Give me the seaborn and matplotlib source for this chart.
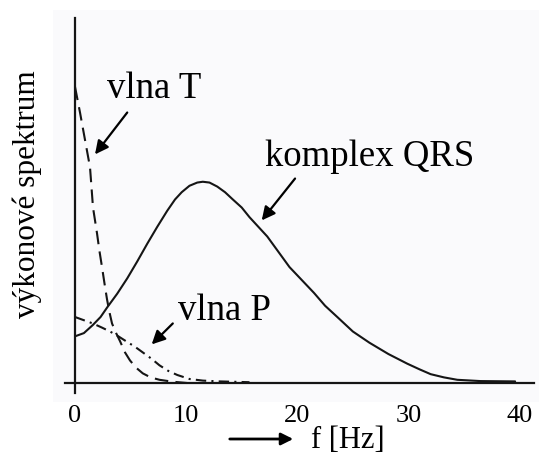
import matplotlib
matplotlib.use('Agg')
import matplotlib.pyplot as plt
import seaborn as sns
from matplotlib.patches import Rectangle, FancyArrowPatch

# values (f in Hz, power in tick units)
f_qrs = [0, 0.8, 1.6, 2.3, 2.9, 3.8, 4.7, 5.6, 6.5, 7.4, 8.3, 9.0, 9.6, 10.3, 11.0, 11.5,
         12.1, 12.8, 13.5, 14.2, 15.0, 15.7, 16.5, 17.3, 18.3, 19.3, 20.4, 21.5, 22.5,
         23.6, 25.0, 26.5, 28.2, 29.9, 31.0, 32.0, 33.2, 34.4, 36.5, 39.6]
p_qrs = [0.29, 0.31, 0.36, 0.41, 0.47, 0.555, 0.65, 0.755, 0.865, 0.97, 1.07, 1.14, 1.185,
         1.225, 1.245, 1.25, 1.245, 1.22, 1.185, 1.14, 1.09, 1.03, 0.97, 0.91, 0.815, 0.72,
         0.64, 0.56, 0.48, 0.41, 0.32, 0.25, 0.18, 0.12, 0.085, 0.055, 0.035, 0.02, 0.012,
         0.01]

f_t = [0, 0.45, 0.9, 1.35, 1.62, 1.98, 2.2, 2.43, 2.65, 2.88, 3.1, 3.33, 3.7, 4.05, 4.5,
       4.95, 5.5, 6.1, 6.8, 7.6, 8.8, 10.1]
p_t = [1.84, 1.68, 1.51, 1.34, 1.09, 0.93, 0.82, 0.72, 0.62, 0.52, 0.44, 0.37, 0.31, 0.26,
       0.19, 0.14, 0.095, 0.06, 0.035, 0.02, 0.008, 0.0]

f_p = [0, 0.8, 1.6, 2.4, 3.15, 3.9, 4.7, 5.4, 6.1, 6.9, 7.6, 8.4, 9.2, 10.3, 11.5, 13.0,
       15.7]
p_p = [0.41, 0.39, 0.37, 0.345, 0.32, 0.29, 0.255, 0.225, 0.19, 0.15, 0.11, 0.075, 0.05,
       0.025, 0.015, 0.01, 0.005]

x_ticks = [0, 10, 20, 30, 40]
y_ticks = [1, 2]

sns.set_style('white')
plt.rcParams['font.family'] = ['Liberation Serif', 'DejaVu Serif']
plt.rcParams['text.color'] = 'black'
plt.rcParams['xtick.color'] = 'black'
plt.rcParams['ytick.color'] = 'black'

fig = plt.figure(figsize=(5.39, 4.55), dpi=100)
W, H = 539, 455
# faint scanned-page tone behind the plot
fig.add_artist(Rectangle((53 / W, 1 - 402 / H), (539 - 53) / W, (402 - 10) / H,
                         transform=fig.transFigure, color='#fafafc', zorder=0, lw=0))

ax = fig.add_axes([65 / W, 1 - 393 / H, (534 - 65) / W, (393 - 18) / H])
ax.patch.set_alpha(0)

line_col = '#151515'
sns.lineplot(x=f_qrs, y=p_qrs, ax=ax, color=line_col, lw=1.5)
sns.lineplot(x=f_t, y=p_t, ax=ax, color=line_col, lw=1.5, linestyle=(0, (6.5, 3.5)))
sns.lineplot(x=f_p, y=p_p, ax=ax, color=line_col, lw=1.5, linestyle=(0, (5, 2.5, 1, 2.5)))

ax.set_xlim(-0.9, 41.3)
ax.set_ylim(-0.062, 2.267)

for s in ['top', 'right']:
    ax.spines[s].set_visible(False)
ax.spines['left'].set_position(('data', 0))
ax.spines['bottom'].set_position(('data', 0))
for s in ['left', 'bottom']:
    ax.spines[s].set_color('#151515')
    ax.spines[s].set_linewidth(1.6)

ax.set_xticks(x_ticks)
ax.set_xticklabels([str(t) for t in x_ticks])
ax.set_yticks(y_ticks)
ax.set_yticklabels([])
ax.tick_params(axis='x', direction='inout', length=7, width=1.5, color='#151515',
               labelsize=19, pad=12, labelcolor='black')
ax.tick_params(axis='y', direction='out', length=6, width=1.5, color='#151515')
ax.set_xlabel('')
ax.set_ylabel('')

# annotations
arrow = dict(arrowstyle='-|>', color='black', lw=1.6, mutation_scale=20, shrinkA=0, shrinkB=0)
ax.text(2.9, 1.77, 'vlna T', fontsize=26.5, ha='left', va='baseline')
ax.annotate('', xy=(1.8, 1.42), xytext=(4.7, 1.68), arrowprops=arrow)
ax.text(17.1, 1.35, 'komplex QRS', fontsize=26.5, ha='left', va='baseline')
ax.annotate('', xy=(16.8, 1.01), xytext=(19.8, 1.27), arrowprops=arrow)
ax.text(9.3, 0.39, 'vlna P', fontsize=26.5, ha='left', va='baseline')
ax.annotate('', xy=(6.9, 0.24), xytext=(8.8, 0.37), arrowprops=arrow)

# axis titles
fig.text(27 / W, 1 - 194 / H, 'výkonové spektrum', fontsize=22.5, rotation=90,
         ha='center', va='center')
fig.text(311 / W, 1 - 448 / H, 'f [Hz]', fontsize=22, ha='left', va='baseline')
fig.add_artist(FancyArrowPatch(
    (227 / W, 1 - 439 / H), (296 / W, 1 - 439 / H), transform=fig.transFigure,
    arrowstyle='-|>', mutation_scale=18, lw=2, color='black'))

fig.savefig('out.png', dpi=100)
